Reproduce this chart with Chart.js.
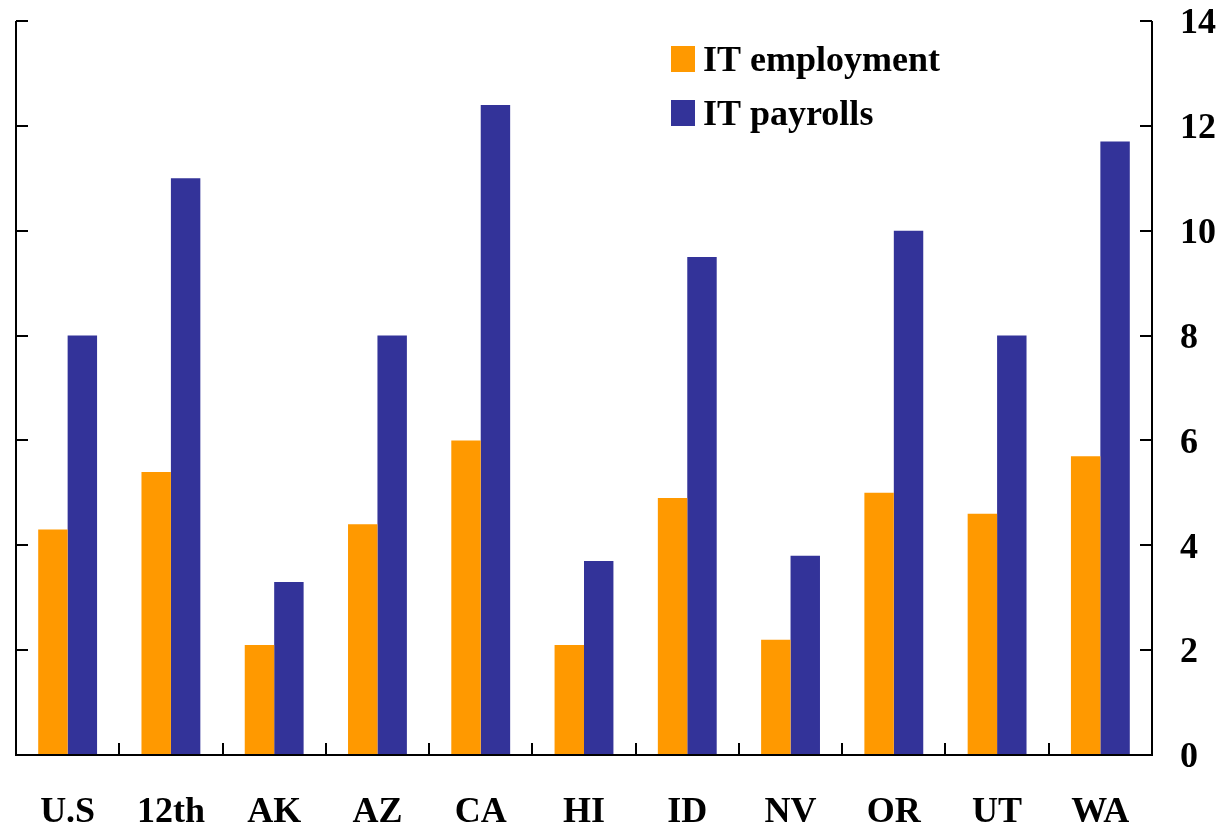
<!DOCTYPE html>
<html>
<head>
<meta charset="utf-8">
<script src="https://cdn.jsdelivr.net/npm/chart.js@4/dist/chart.umd.min.js"></script>
<style>
  body { margin: 0; background: #fff; }
  #chart { display: block; }
</style>
</head>
<body>
<canvas id="chart" width="1222" height="830"></canvas>
<script>
const categories = ['U.S', '12th', 'AK', 'AZ', 'CA', 'HI', 'ID', 'NV', 'OR', 'UT', 'WA']
const employment = [4.3, 5.4, 2.1, 4.4, 6.0, 2.1, 4.9, 2.2, 5.0, 4.6, 5.7]
const payrolls = [8.0, 11.0, 3.3, 8.0, 12.4, 3.7, 9.5, 3.8, 10.0, 8.0, 11.7]
const yTicks = [0, 2, 4, 6, 8, 10, 12, 14]

const FONT = '"Liberation Serif", "Times New Roman", serif'

// axes frame with inward tick marks
const framePlugin = {
    id: 'frame',
    afterDraw(chart) {
        const ctx = chart.ctx
        const { left, right, bottom } = chart.chartArea
        const y = chart.scales.y
        const x = chart.scales.x
        const top = y.getPixelForValue(14)
        const tl = 12
        ctx.save()
        ctx.strokeStyle = '#000'
        ctx.lineWidth = 2
        ctx.beginPath()
        ctx.moveTo(left, top)
        ctx.lineTo(left, bottom)
        ctx.lineTo(right, bottom)
        ctx.lineTo(right, top)
        for (const v of yTicks) {
            const py = Math.round(y.getPixelForValue(v))
            ctx.moveTo(left, py)
            ctx.lineTo(left + tl, py)
            ctx.moveTo(right - tl, py)
            ctx.lineTo(right, py)
        }
        for (let i = 1; i < categories.length; i++) {
            const px = Math.round((x.getPixelForValue(i - 1) + x.getPixelForValue(i)) / 2)
            ctx.moveTo(px, bottom)
            ctx.lineTo(px, bottom - tl)
        }
        ctx.stroke()
        ctx.restore()
    }
}

const legendPlugin = {
    id: 'boxLegend',
    afterDraw(chart) {
        const ctx = chart.ctx
        ctx.save()
        ctx.font = 'bold 36px ' + FONT
        ctx.textBaseline = 'middle'
        ctx.textAlign = 'left'
        chart.data.datasets.forEach((ds, i) => {
            const cy = 59 + i * 54
            ctx.fillStyle = ds.backgroundColor
            ctx.fillRect(671, cy - 13, 24, 26)
            ctx.fillStyle = '#000'
            ctx.fillText(ds.label, 703, cy + 3)
        })
        ctx.restore()
    }
}

new Chart(document.getElementById('chart').getContext('2d'), {
    type: 'bar',
    data: {
        labels: categories,
        datasets: [{
            label: 'IT employment',
            data: employment,
            backgroundColor: '#FF9900',
            barPercentage: 1,
            categoryPercentage: 0.57
        }, {
            label: 'IT payrolls',
            data: payrolls,
            backgroundColor: '#333399',
            barPercentage: 1,
            categoryPercentage: 0.57
        }]
    },
    options: {
        responsive: false,
        animation: false,
        layout: { padding: { left: 16, top: 21, right: 0, bottom: 0 } },
        plugins: {
            legend: { display: false },
            tooltip: { enabled: false }
        },
        scales: {
            x: {
                grid: { display: false, drawTicks: false },
                border: { display: false },
                ticks: {
                    color: '#000',
                    padding: 36,
                    font: { family: FONT, size: 36, weight: 'bold' }
                },
                afterFit(scale) {
                    scale.height = 75
                    scale.paddingLeft = 0
                    scale.paddingRight = 0
                }
            },
            y: {
                position: 'right',
                min: 0,
                max: 14,
                afterBuildTicks(scale) { scale.ticks = yTicks.map(v => ({ value: v })) },
                grid: { display: false, drawTicks: false },
                border: { display: false },
                ticks: {
                    color: '#000',
                    padding: 28,
                    labelOffset: 3,
                    font: { family: FONT, size: 36, weight: 'bold' }
                },
                afterFit(scale) {
                    scale.width = 70
                    scale.paddingTop = 0
                    scale.paddingBottom = 0
                }
            }
        }
    },
    plugins: [framePlugin, legendPlugin]
})
</script>
</body>
</html>
